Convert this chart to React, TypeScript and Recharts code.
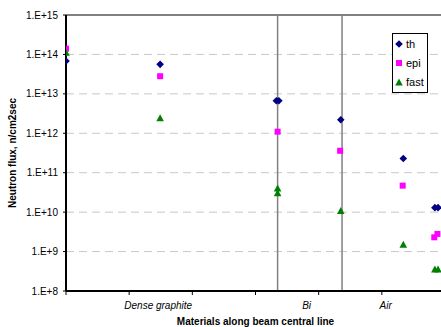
import React from "react";
import {
  ScatterChart,
  Scatter,
  XAxis,
  YAxis,
  CartesianGrid,
  ReferenceLine,
  Legend,
} from "recharts";

// positions along the beam line (axis units) and fluxes, n/cm2sec
const thX = [0, 1.49, 3.33, 3.37, 4.35, 5.34, 5.84, 5.89];
const thY = [6.8e13, 5.6e13, 6.7e12, 6.7e12, 2.2e12, 2.3e11, 1.3e10, 1.3e10];

const epiX = [0, 1.49, 3.35, 4.34, 5.33, 5.83, 5.88];
const epiY = [1.4e14, 2.8e13, 1.1e12, 3.6e11, 4.7e10, 2.3e9, 2.8e9];

const fastX = [0, 1.49, 3.35, 3.35, 4.35, 5.34, 5.84, 5.89];
const fastY = [1.1e14, 2.4e12, 4.0e10, 3.0e10, 1.07e10, 1.5e9, 3.5e8, 3.5e8];

const seriesNames = ["th", "epi", "fast"];

const materials = ["Dense graphite", "Bi", "Air"];
const materialPos = [1.46, 3.81, 5.06];
const boundaries = [3.35, 4.37];

const xTicks = [0, 1, 2, 3, 4, 5, 6];
const yTicks = [1e8, 1e9, 1e10, 1e11, 1e12, 1e13, 1e14, 1e15];

const toPoints = (xs: number[], ys: number[]) =>
  xs.map((x, i) => ({ x, y: ys[i] }));

const font = "Arial, 'Liberation Sans', sans-serif";

const Diamond = (props: any) => {
  const { cx, cy } = props;
  return (
    <path
      d={`M${cx},${cy - 3.8}L${cx + 3.8},${cy}L${cx},${cy + 3.8}L${cx - 3.8},${cy}Z`}
      fill="#000080"
    />
  );
};

const Square = (props: any) => {
  const { cx, cy } = props;
  return <rect x={cx - 3} y={cy - 3} width={6} height={6} fill="#FF00FF" />;
};

const Triangle = (props: any) => {
  const { cx, cy } = props;
  return (
    <path
      d={`M${cx},${cy - 4}L${cx + 3.8},${cy + 3}L${cx - 3.8},${cy + 3}Z`}
      fill="#008000"
    />
  );
};

const markerFor = (name: string) => {
  if (name === "th") return <Diamond cx={5} cy={5} />;
  if (name === "epi") return <Square cx={5} cy={5} />;
  return <Triangle cx={5} cy={5.5} />;
};

const LegendBox = (props: any) => {
  const payload = [...(props.payload || [])].sort(
    (a: any, b: any) => seriesNames.indexOf(a.value) - seriesNames.indexOf(b.value)
  );
  return (
    <div
      style={{
        border: "1px solid #000",
        background: "#fff",
        width: 34,
        fontFamily: font,
        fontSize: 11,
        color: "#000",
      }}
    >
      {payload.map((entry: any) => (
        <div
          key={entry.value}
          style={{ display: "flex", alignItems: "center", height: 19.3 }}
        >
          <svg width={10} height={10} style={{ marginLeft: 1, marginRight: 2 }}>
            {markerFor(entry.value)}
          </svg>
          <span>{entry.value}</span>
        </div>
      ))}
    </div>
  );
};

const MaterialTick = (props: any) => {
  const { x, y, payload } = props;
  const idx = materialPos.indexOf(payload.value);
  return (
    <text
      x={x}
      y={y}
      dy={12}
      textAnchor="middle"
      fontStyle="italic"
      fontSize={10}
      fontFamily={font}
      fill="#000"
    >
      {materials[idx]}
    </text>
  );
};

const formatPow = (v: number) => `1.E+${Math.round(Math.log10(v))}`;

export default function App() {
  return (
    <div
      style={{
        position: "absolute",
        left: 0,
        top: 0,
        width: 441,
        height: 327,
        overflow: "hidden",
        background: "#fff",
      }}
    >
      <ScatterChart
        width={450}
        height={327}
        margin={{ top: 15, right: 5, bottom: 0, left: 0 }}
      >
        <CartesianGrid
          vertical={false}
          stroke="#c8c8c8"
          strokeDasharray="8 5"
        />
        <XAxis
          type="number"
          dataKey="x"
          domain={[0, 6]}
          ticks={xTicks}
          tickFormatter={() => ""}
          tickSize={4}
          height={6}
          stroke="#000"
          axisLine={{ stroke: "#000", strokeWidth: 2 }}
          tickLine={{ stroke: "#000" }}
          allowDataOverflow
        />
        <XAxis
          xAxisId="cat"
          type="number"
          dataKey="x"
          domain={[0, 6]}
          ticks={materialPos}
          axisLine={false}
          tickLine={false}
          tickSize={0}
          tickMargin={0}
          height={30}
          tick={<MaterialTick />}
          interval={0}
          allowDataOverflow
          label={{
            value: "Materials along beam central line",
            position: "insideBottom",
            offset: 2,
            fontSize: 10,
            fontWeight: "bold",
            fontFamily: font,
            fill: "#000",
          }}
        />
        <YAxis
          type="number"
          dataKey="y"
          scale="log"
          domain={[1e8, 1e15]}
          ticks={yTicks}
          interval={0}
          allowDataOverflow
          width={66}
          tickFormatter={formatPow}
          tickSize={3}
          tickMargin={5}
          tick={{ fontSize: 10, fontFamily: font, fill: "#000" }}
          axisLine={{ stroke: "#000", strokeWidth: 2 }}
          tickLine={{ stroke: "#000" }}
          label={{
            value: "Neutron flux, n/cm2sec",
            angle: -90,
            position: "center",
            dx: -21,
            fontSize: 10,
            fontWeight: "bold",
            fontFamily: font,
            fill: "#000",
          }}
        />
        <ReferenceLine y={1e15} stroke="#808080" strokeWidth={2} />
        {boundaries.map((b) => (
          <ReferenceLine key={b} x={b} stroke="#808080" strokeWidth={1.5} />
        ))}
        <Legend
          layout="vertical"
          align="center"
          verticalAlign="middle"
          wrapperStyle={{ left: 392, top: 33, width: 36 }}
          content={<LegendBox />}
        />
        <Scatter
          name="th"
          data={toPoints(thX, thY)}
          fill="#000080"
          shape={<Diamond />}
          isAnimationActive={false}
        />
        <Scatter
          name="epi"
          data={toPoints(epiX, epiY)}
          fill="#FF00FF"
          shape={<Square />}
          isAnimationActive={false}
        />
        <Scatter
          name="fast"
          data={toPoints(fastX, fastY)}
          fill="#008000"
          shape={<Triangle />}
          isAnimationActive={false}
        />
      </ScatterChart>
    </div>
  );
}
